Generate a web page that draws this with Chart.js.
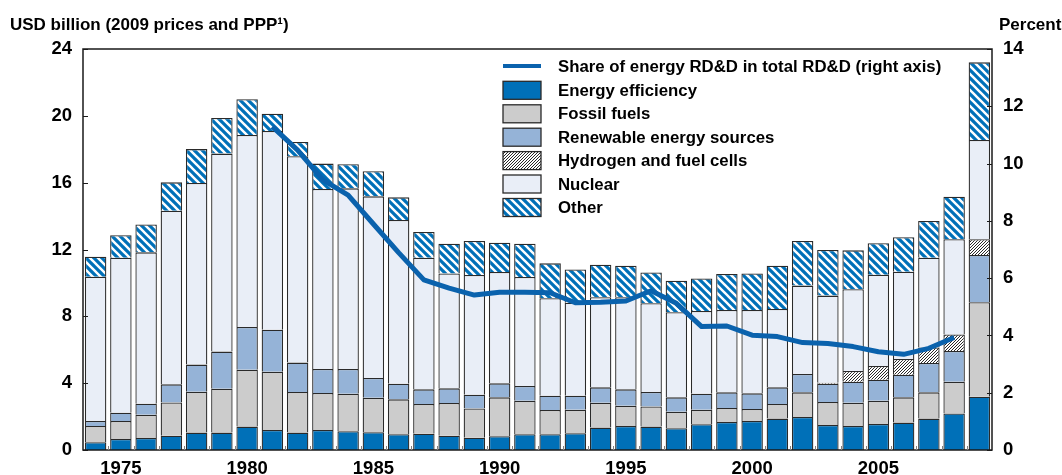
<!DOCTYPE html>
<html>
<head>
<meta charset="utf-8">
<script src="https://cdn.jsdelivr.net/npm/chart.js@4.4.0/dist/chart.umd.min.js"></script>
<style>
  html, body { margin: 0; padding: 0; background: #ffffff; }
  #wrap { position: relative; width: 1062px; height: 475px; }
</style>
</head>
<body>
<div id="wrap"><canvas id="c" width="1062" height="475"></canvas></div>
<script>
// ---------------- DATA ----------------
const years = [1974,1975,1976,1977,1978,1979,1980,1981,1982,1983,1984,1985,1986,1987,1988,1989,1990,1991,1992,1993,1994,1995,1996,1997,1998,1999,2000,2001,2002,2003,2004,2005,2006,2007,2008,2009];

const energyEfficiency = [0.46,0.66,0.72,0.86,1.04,1.04,1.40,1.20,1.04,1.20,1.12,1.06,0.94,0.98,0.86,0.74,0.82,0.94,0.94,1.00,1.34,1.44,1.40,1.30,1.54,1.68,1.74,1.88,1.98,1.50,1.44,1.56,1.64,1.88,2.19,3.19];
const fossilFuels = [0.98,1.08,1.39,1.99,2.45,2.63,3.41,3.49,2.43,2.21,2.25,2.07,2.09,1.77,1.95,1.75,2.33,2.01,1.45,1.41,1.49,1.21,1.21,0.99,0.87,0.83,0.71,0.87,1.47,1.37,1.39,1.39,1.51,1.57,1.90,5.65];
const renewables = [0.30,0.49,0.66,1.08,1.62,2.22,2.55,2.51,1.76,1.44,1.48,1.18,0.94,0.88,0.88,0.82,0.84,0.88,0.86,0.84,0.92,0.98,0.86,0.86,0.96,0.94,0.94,1.00,1.10,1.10,1.26,1.26,1.36,1.76,1.84,2.83];
const hydrogen = [0,0,0,0,0,0,0,0,0,0,0,0,0,0,0,0,0,0,0,0,0,0,0,0,0,0,0,0,0,0.05,0.64,0.82,0.94,0.93,0.99,0.95];
const nuclear = [8.63,9.28,9.06,10.39,10.87,11.85,11.49,11.89,12.35,10.77,10.81,10.87,9.80,7.88,6.88,7.16,6.66,6.52,5.83,5.57,5.39,5.51,5.31,5.09,4.95,4.93,4.99,4.69,5.29,5.22,4.89,5.46,5.22,5.37,5.69,5.93];
const other = [1.20,1.34,1.67,1.70,2.03,2.13,2.14,1.04,0.85,1.52,1.44,1.50,1.35,1.54,1.78,2.04,1.76,2.00,2.09,1.99,1.95,1.89,1.85,1.89,1.95,2.15,2.19,2.59,2.67,2.73,2.33,1.88,2.06,2.20,2.55,4.65];
const shareEnergyRDD = [null,null,null,null,null,null,null,11.29,10.47,9.43,8.90,7.89,6.89,5.94,5.65,5.41,5.51,5.51,5.49,5.14,5.16,5.20,5.56,5.12,4.31,4.33,4.01,3.96,3.75,3.72,3.61,3.43,3.34,3.55,3.93,null];

const leftTicks = [0,4,8,12,16,20,24];
const rightTicks = [0,2,4,6,8,10,12,14];
const labeledYears = [1975,1980,1985,1990,1995,2000,2005];

const leftTitle = 'USD billion (2009 prices and PPP\u00B9)';
const rightTitle = 'Percent';
const seriesNames = ['Share of energy RD&D in total RD&D (right axis)','Energy efficiency','Fossil fuels','Renewable energy sources','Hydrogen and fuel cells','Nuclear','Other'];

// ---------------- STYLES ----------------
const FONT = '"Liberation Sans", Arial, sans-serif';
const BLUE = '#0070b8';
const LINE_BLUE = '#0a62ad';

function stripePattern(bg, fg, size, width, dir) {
  const c = document.createElement('canvas');
  c.width = size; c.height = size;
  const g = c.getContext('2d');
  g.fillStyle = bg; g.fillRect(0, 0, size, size);
  g.strokeStyle = fg; g.lineWidth = width; g.lineCap = 'square';
  for (let k = -size; k <= size; k += size) {
    g.beginPath();
    if (dir === 'back') { g.moveTo(k, 0); g.lineTo(k + size, size); }
    else { g.moveTo(k, size); g.lineTo(k + size, 0); }
    g.stroke();
  }
  return document.getElementById('c').getContext('2d').createPattern(c, 'repeat');
}
const otherPattern = stripePattern(BLUE, '#ffffff', 8, 2.4, 'back');
const hydrogenPattern = stripePattern('#ffffff', '#111111', 3, 0.9, 'fwd');

const barBase = { type: 'bar', stack: 's', order: 2, borderColor: '#2a2a2a', borderWidth: 1.3, barPercentage: 0.85, categoryPercentage: 1.0, yAxisID: 'y' };

const data = {
  labels: years,
  datasets: [
    { type: 'line', label: seriesNames[0], data: shareEnergyRDD, yAxisID: 'y1', order: 0,
      borderColor: LINE_BLUE, backgroundColor: LINE_BLUE, borderWidth: 5, pointRadius: 0,
      tension: 0, borderJoinStyle: 'round', borderCapStyle: 'butt', spanGaps: false },
    Object.assign({}, barBase, { label: seriesNames[1], data: energyEfficiency, backgroundColor: BLUE }),
    Object.assign({}, barBase, { label: seriesNames[2], data: fossilFuels, backgroundColor: '#cccccc' }),
    Object.assign({}, barBase, { label: seriesNames[3], data: renewables, backgroundColor: '#95b3d7' }),
    Object.assign({}, barBase, { label: seriesNames[4], data: hydrogen, backgroundColor: hydrogenPattern }),
    Object.assign({}, barBase, { label: seriesNames[5], data: nuclear, backgroundColor: '#e9eef7' }),
    Object.assign({}, barBase, { label: seriesNames[6], data: other, backgroundColor: otherPattern })
  ]
};

// frame, inward ticks, titles and legend
const decorPlugin = {
  id: 'decor',
  afterDatasetsDraw(chart) {
    const ctx = chart.ctx;
    const a = chart.chartArea;
    const y = chart.scales.y, y1 = chart.scales.y1, x = chart.scales.x;
    ctx.save();
    // frame
    ctx.strokeStyle = '#1a1a1a';
    ctx.lineWidth = 1.5;
    ctx.strokeRect(a.left, a.top, a.right - a.left, a.bottom - a.top);
    // left inward ticks
    ctx.lineWidth = 1;
    ctx.strokeStyle = '#1a1a1a';
    leftTicks.forEach(v => {
      const py = Math.round(y.getPixelForValue(v)) + 0.5;
      ctx.beginPath(); ctx.moveTo(a.left, py); ctx.lineTo(a.left + 5, py); ctx.stroke();
    });
    rightTicks.forEach(v => {
      const py = Math.round(y1.getPixelForValue(v)) + 0.5;
      ctx.beginPath(); ctx.moveTo(a.right - 5, py); ctx.lineTo(a.right, py); ctx.stroke();
    });
    // x ticks at category boundaries
    ctx.strokeStyle = '#808080';
    for (let i = 0; i < years.length - 1; i++) {
      const px = Math.round((x.getPixelForValue(i) + x.getPixelForValue(i + 1)) / 2) + 0.5;
      ctx.beginPath(); ctx.moveTo(px, a.bottom); ctx.lineTo(px, a.bottom - 4); ctx.stroke();
    }
    // axis titles
    ctx.fillStyle = '#000';
    ctx.font = 'bold 17px ' + FONT;
    ctx.textBaseline = 'alphabetic';
    ctx.textAlign = 'left';
    ctx.fillText(leftTitle, 10, 30);
    ctx.fillText(rightTitle, 999, 30);
    // legend
    const lx = 503, boxW = 38, boxH = 18, tx = 558;
    const rowY = [66, 90.3, 113.8, 137.2, 160.6, 184, 207.5];
    ctx.font = 'bold 16.8px ' + FONT;
    ctx.textBaseline = 'middle';
    chart.data.datasets.forEach((ds, i) => {
      const cy = rowY[i];
      if (ds.type === 'line') {
        ctx.strokeStyle = ds.borderColor; ctx.lineWidth = 4;
        ctx.beginPath(); ctx.moveTo(lx, cy); ctx.lineTo(lx + boxW, cy); ctx.stroke();
      } else {
        ctx.fillStyle = ds.backgroundColor;
        ctx.fillRect(lx, cy - boxH / 2, boxW, boxH);
        ctx.strokeStyle = '#2a2a2a'; ctx.lineWidth = 1.3;
        ctx.strokeRect(lx, cy - boxH / 2, boxW, boxH);
      }
      ctx.fillStyle = '#000';
      ctx.fillText(ds.label, tx, cy + 1);
    });
    ctx.restore();
  }
};

new Chart(document.getElementById('c'), {
  data: data,
  options: {
    responsive: false,
    animation: false,
    devicePixelRatio: 1,
    layout: { padding: { top: 49, left: 0, right: 0, bottom: 0 } },
    plugins: { legend: { display: false }, tooltip: { enabled: false }, title: { display: false } },
    scales: {
      x: {
        type: 'category',
        offset: true,
        grid: { display: false, drawTicks: false },
        border: { display: false },
        ticks: {
          autoSkip: false, maxRotation: 0, minRotation: 0, padding: 8,
          color: '#000', font: { family: FONT, size: 18.5, weight: 'bold' },
          callback: function(val, idx) { const yr = years[idx]; return labeledYears.includes(yr) ? String(yr) : ''; }
        },
        afterFit: s => { s.height = 25; }
      },
      y: {
        position: 'left', stacked: true, min: 0, max: 24,
        grid: { display: false, drawTicks: false },
        border: { display: false },
        afterBuildTicks: s => { s.ticks = leftTicks.map(v => ({ value: v })); },
        ticks: { padding: 11, color: '#000', font: { family: FONT, size: 18.5, weight: 'bold' } },
        afterFit: s => { s.width = 83; }
      },
      y1: {
        position: 'right', min: 0, max: 14,
        grid: { display: false, drawTicks: false },
        border: { display: false },
        afterBuildTicks: s => { s.ticks = rightTicks.map(v => ({ value: v })); },
        ticks: { padding: 11, color: '#000', font: { family: FONT, size: 18.5, weight: 'bold' } },
        afterFit: s => { s.width = 70; }
      }
    }
  },
  plugins: [decorPlugin]
});
</script>
</body>
</html>
